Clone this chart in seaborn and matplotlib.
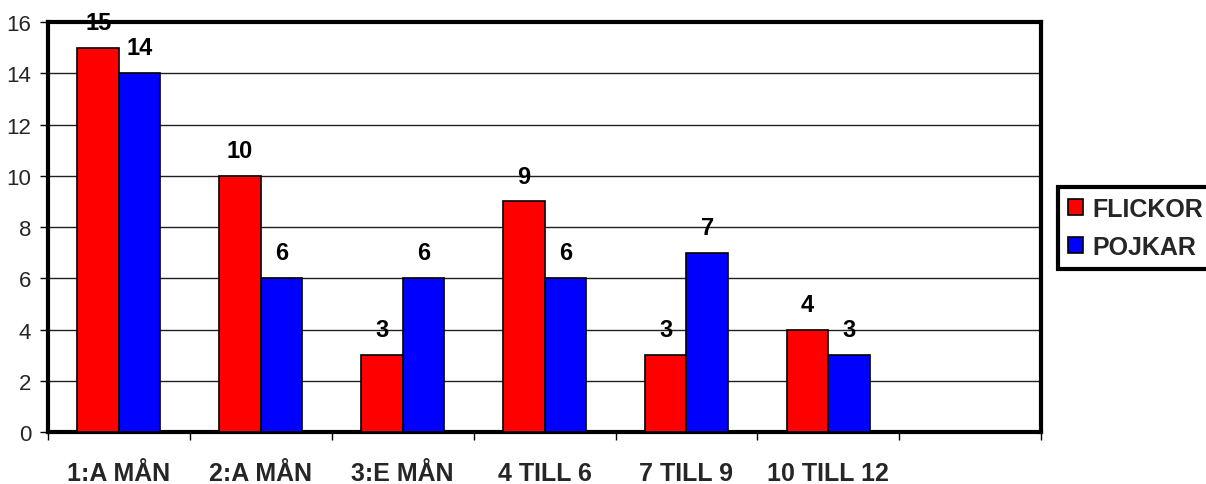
import matplotlib
matplotlib.use("Agg")
import matplotlib.pyplot as plt
import seaborn as sns
import pandas as pd
import numpy as np

categories = ["1:A MÅN", "2:A MÅN", "3:E MÅN", "4 TILL 6", "7 TILL 9", "10 TILL 12"]
flickor = [15, 10, 3, 9, 3, 4]
pojkar = [14, 6, 6, 6, 7, 3]
series_names = ["FLICKOR", "POJKAR"]
series_colors = ["#FF0000", "#0000FF"]
y_ticks = [0, 2, 4, 6, 8, 10, 12, 14, 16]

df = pd.DataFrame({
    "group": categories * 2,
    "count": flickor + pojkar,
    "kön": [series_names[0]] * len(categories) + [series_names[1]] * len(categories),
})

sns.set_theme(style="white")
plt.rcParams["font.family"] = ["Liberation Sans", "DejaVu Sans"]

fig = plt.figure(figsize=(12.06, 4.85), dpi=100)
ax = fig.add_axes([0.0398, 0.107, 0.8235, 0.8455])

sns.barplot(data=df, x="group", y="count", hue="kön", order=categories,
            hue_order=series_names, palette=series_colors, width=0.585,
            edgecolor="black", linewidth=1.2, saturation=1, ax=ax, legend=True,
            zorder=3)

# one extra empty slot on the right
ax.set_xlim(-0.5, len(categories) + 0.5)
ax.set_ylim(0, 16)
ax.set_yticks(y_ticks)
ax.set_yticklabels([str(v) for v in y_ticks], fontsize=16)
ax.set_xlabel("")
ax.set_ylabel("")

ax.yaxis.grid(True, color="#202020", linewidth=1.0, zorder=0)
ax.xaxis.grid(False)
ax.set_axisbelow(True)

for s in ax.spines.values():
    s.set_visible(True)
    s.set_color("black")
    s.set_linewidth(3)

ax.tick_params(axis="y", which="major", direction="out", length=6, width=1,
               color="black", pad=6, left=True)
ax.set_xticks(range(len(categories)))
ax.set_xticklabels(categories, fontsize=18, fontweight="bold")
ax.tick_params(axis="x", which="major", length=0, pad=21)
ax.set_xticks(np.arange(-0.5, len(categories) + 1.0, 1.0), minor=True)
ax.tick_params(axis="x", which="minor", direction="out", length=6, width=1,
               color="black", bottom=True)

for cont in ax.containers:
    texts = ax.bar_label(cont, labels=[f"{int(v)}" for v in cont.datavalues],
                         padding=10, fontsize=17, fontweight="bold", color="black")
    for t in texts:
        t.set_clip_on(False)
        t.set_zorder(6)

leg = ax.legend(loc="upper left", bbox_to_anchor=(0.877, 0.612),
                bbox_transform=fig.transFigure, frameon=True, fancybox=False,
                framealpha=1, prop={"weight": "bold", "size": 18},
                handlelength=0.6, handleheight=0.6, handletextpad=0.4,
                borderpad=0.4, labelspacing=0.55, borderaxespad=0)
leg.get_frame().set_edgecolor("black")
leg.get_frame().set_linewidth(3)
for h in leg.legend_handles:
    h.set_edgecolor("black")
    h.set_linewidth(1.2)

fig.savefig("out.png", dpi=100)
